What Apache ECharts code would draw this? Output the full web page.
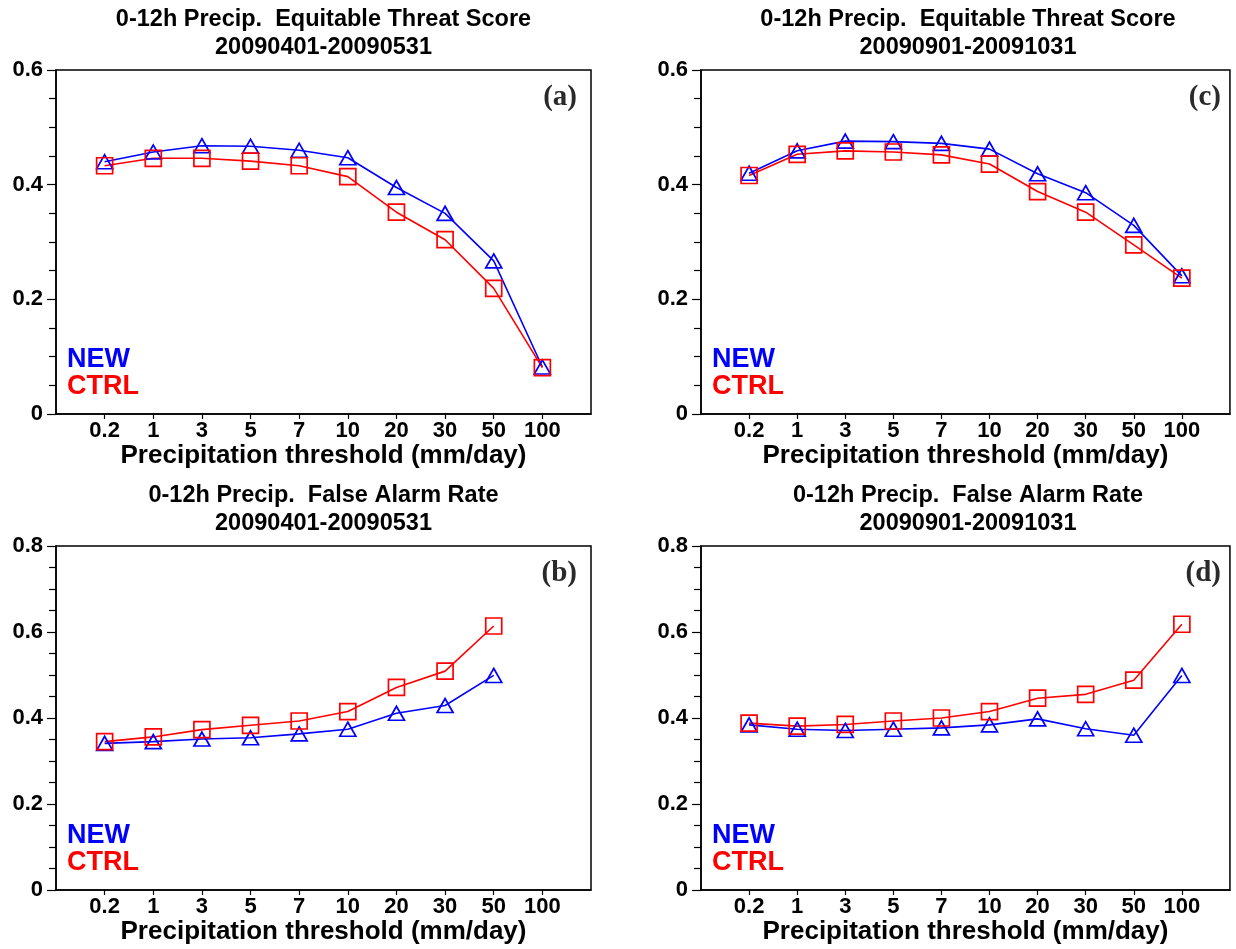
<!DOCTYPE html>
<html>
<head>
<meta charset="utf-8">
<script src="https://cdn.jsdelivr.net/npm/echarts@6/dist/echarts.min.js"></script>
<style>
  html, body { margin: 0; padding: 0; background: #fff; }
  #chart { width: 1236px; height: 949px; }
</style>
</head>
<body>
<div id="chart"></div>
<script>
// Precipitation thresholds (mm/day) shown along the x axis
const thresholds = ['0.2', '1', '3', '5', '7', '10', '20', '30', '50', '100'];
// padded category list so each panel keeps a one-step margin at both ends
const axisCats = [''].concat(thresholds, [' ']);

// Equitable threat score, spring period
const etsAprNew  = [0.440, 0.457, 0.468, 0.467, 0.460, 0.447, 0.395, 0.350, 0.267, 0.082];
const etsAprCtrl = [0.433, 0.446, 0.446, 0.441, 0.433, 0.414, 0.352, 0.304, 0.219, 0.081];
// Equitable threat score, autumn period
const etsSepNew  = [0.420, 0.459, 0.476, 0.475, 0.472, 0.462, 0.419, 0.386, 0.329, 0.241];
const etsSepCtrl = [0.416, 0.453, 0.459, 0.457, 0.452, 0.436, 0.388, 0.352, 0.295, 0.237];
// False alarm rate, spring period (no value at 100 mm/day)
const farAprNew  = [0.341, 0.345, 0.351, 0.354, 0.363, 0.374, 0.411, 0.429, 0.499];
const farAprCtrl = [0.345, 0.356, 0.373, 0.383, 0.393, 0.415, 0.471, 0.509, 0.614];
// False alarm rate, autumn period
const farSepNew  = [0.384, 0.374, 0.371, 0.374, 0.377, 0.384, 0.398, 0.375, 0.360, 0.499];
const farSepCtrl = [0.388, 0.381, 0.385, 0.393, 0.400, 0.415, 0.446, 0.455, 0.488, 0.618];

const titleEts = '0-12h Precip.  Equitable Threat Score';
const titleFar = '0-12h Precip.  False Alarm Rate';
const periodApr = '20090401-20090531';
const periodSep = '20090901-20091031';
const xName = 'Precipitation threshold (mm/day)';
const newLabel = 'NEW';
const ctrlLabel = 'CTRL';

const SANS = '"Liberation Sans", Arial, Helvetica, sans-serif';
const SERIF = '"Liberation Serif", "Times New Roman", serif';
const BLUE = '#0000ff';
const RED = '#ff0000';

const panels = [
  { left: 56,  top: 70,  width: 535, height: 344, ymax: 0.6, title: titleEts, period: periodApr, tag: '(a)', a: etsAprNew, b: etsAprCtrl },
  { left: 701, top: 70,  width: 534, height: 344, ymax: 0.6, title: titleEts, period: periodSep, tag: '(c)', a: etsSepNew, b: etsSepCtrl },
  { left: 56,  top: 546, width: 535, height: 344, ymax: 0.8, title: titleFar, period: periodApr, tag: '(b)', a: farAprNew, b: farAprCtrl },
  { left: 701, top: 546, width: 534, height: 344, ymax: 0.8, title: titleFar, period: periodSep, tag: '(d)', a: farSepNew, b: farSepCtrl }
];

const grid = [], xAxis = [], yAxis = [], series = [], graphic = [];

panels.forEach((p, i) => {
  grid.push({
    left: p.left, top: p.top, width: p.width, height: p.height,
    show: true, borderColor: '#000', borderWidth: 1.5, backgroundColor: 'transparent'
  });
  xAxis.push({
    type: 'category', gridIndex: i, data: axisCats, boundaryGap: false,
    axisLine: { lineStyle: { color: '#000', width: 1.5 } },
    axisTick: { length: 5, lineStyle: { color: '#000', width: 1.2 },
      interval: (idx) => idx > 0 && idx < axisCats.length - 1 },
    axisLabel: { interval: 0, margin: 6, color: '#000', fontFamily: SANS, fontWeight: 'bold', fontSize: 22 },
    splitLine: { show: false },
    name: xName, nameLocation: 'middle', nameGap: 27,
    nameTextStyle: { color: '#000', fontFamily: SANS, fontWeight: 'bold', fontSize: 26 }
  });
  yAxis.push({
    type: 'value', gridIndex: i, min: 0, max: p.ymax, interval: 0.2,
    axisLine: { show: true, lineStyle: { color: '#000', width: 1.5 } },
    axisTick: { show: true, length: 9, lineStyle: { color: '#000', width: 1.2 } },
    minorTick: { show: true, splitNumber: 4, length: 7, lineStyle: { color: '#000', width: 1.2 } },
    splitLine: { show: false },
    axisLabel: { margin: 13, color: '#000', fontFamily: SANS, fontWeight: 'bold', fontSize: 22,
      formatter: (v) => (v === 0 ? '0' : v.toFixed(1)) }
  });
  series.push({
    name: newLabel, type: 'line', xAxisIndex: i, yAxisIndex: i,
    data: p.a.map((v, k) => [thresholds[k], v]),
    symbol: 'triangle', symbolSize: [16, 14],
    lineStyle: { color: BLUE, width: 1.6 },
    itemStyle: { color: 'rgba(0,0,0,0)', borderColor: BLUE, borderWidth: 1.7 },
    emphasis: { disabled: true }
  });
  series.push({
    name: ctrlLabel, type: 'line', xAxisIndex: i, yAxisIndex: i,
    data: p.b.map((v, k) => [thresholds[k], v]),
    symbol: 'rect', symbolSize: 16,
    lineStyle: { color: RED, width: 1.6 },
    itemStyle: { color: 'rgba(0,0,0,0)', borderColor: RED, borderWidth: 1.7 },
    emphasis: { disabled: true }
  });

  const cx = p.left + p.width / 2;
  graphic.push(
    { type: 'text', x: cx, y: p.top - 50, style: { text: p.title, textAlign: 'center', textVerticalAlign: 'middle',
      font: 'bold 23.5px ' + SANS, fill: '#000' } },
    { type: 'text', x: cx, y: p.top - 22, style: { text: p.period, textAlign: 'center', textVerticalAlign: 'middle',
      font: 'bold 23.5px ' + SANS, fill: '#000' } },
    { type: 'text', x: p.left + p.width - 14, y: p.top + 28, style: { text: p.tag, textAlign: 'right', textVerticalAlign: 'middle',
      font: 'bold 29px ' + SERIF, fill: '#2a2a2a' } },
    { type: 'text', x: p.left + 11, y: p.top + p.height - 54, style: { text: newLabel, textAlign: 'left', textVerticalAlign: 'middle',
      font: 'bold 27px ' + SANS, fill: BLUE } },
    { type: 'text', x: p.left + 11, y: p.top + p.height - 27, style: { text: ctrlLabel, textAlign: 'left', textVerticalAlign: 'middle',
      font: 'bold 27px ' + SANS, fill: RED } }
  );
});

const chart = echarts.init(document.getElementById('chart'), null, { renderer: 'canvas' });
chart.setOption({
  animation: false,
  backgroundColor: '#fff',
  grid, xAxis, yAxis, series, graphic
});
</script>
</body>
</html>
